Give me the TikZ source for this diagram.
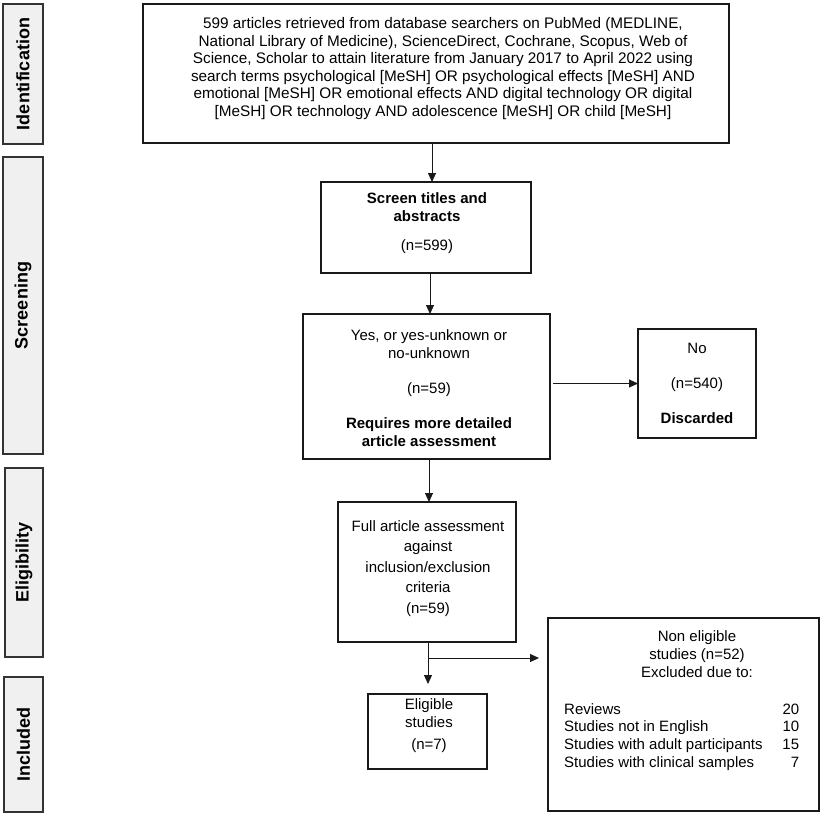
\documentclass[tikz,border=0pt]{standalone}
\usepackage{fontspec}
\setmainfont{Liberation Sans}
\usetikzlibrary{arrows.meta,calc}
\begin{document}
\begin{tikzpicture}[x=1pt,y=-1pt,
  box/.style={draw=black!90, line width=1.2pt, inner sep=0pt, outer sep=0pt, anchor=north west},
  phase/.style={draw=black!80, fill=black!6, line width=1.6pt, inner sep=0pt, rotate=90,
    font=\fontsize{18}{21}\selectfont\bfseries},
  txt/.style={inner sep=0pt, anchor=north, align=center, font=\fontsize{15}{18}\selectfont},
  arr/.style={draw=black!90, line width=1pt, -{Triangle[length=9pt,width=8pt]}}
]
\useasboundingbox (0,0) rectangle (829,815);

% phase labels
\node[phase, minimum width=140pt, minimum height=40pt] (pid) at (23,74) {Identification};
\node[phase, minimum width=297pt, minimum height=40pt] (pscr) at (23,305.5) {Screening};
\node[phase, minimum width=189pt, minimum height=38pt] (pel) at (24,562.5) {Eligibility};
\node[phase, minimum width=135pt, minimum height=39pt] (pinc) at (23.5,744.5) {Included};

% boxes
\node[box, line width=2.4pt, minimum width=586pt, minimum height=139pt] (top) at (143,4) {};
\node[box, minimum width=210pt, minimum height=91pt] (screen) at (321,182) {};
\node[box, minimum width=247pt, minimum height=145pt] (yes) at (303,314) {};
\node[box, minimum width=118pt, minimum height=109pt] (no) at (638,329) {};
\node[box, minimum width=178pt, minimum height=140pt] (full) at (338,502) {};
\node[box, minimum width=119pt, minimum height=75pt] (elig) at (368,694) {};
\node[box, minimum width=271pt, minimum height=193pt] (nonel) at (548,618) {};

% texts
\node[txt, font=\fontsize{15.3}{17.5}\selectfont] (ttop) at (443,16.5) {\strut 599 articles retrieved from database searchers on PubMed (MEDLINE,\\
National Library of Medicine), ScienceDirect, Cochrane, Scopus, Web of\\
Science, Scholar to attain literature from January 2017 to April 2022 using\\
search terms psychological [MeSH] OR psychological effects [MeSH] AND\\
emotional [MeSH] OR emotional effects AND digital technology OR digital\\
{[MeSH]} OR technology AND adolescence [MeSH] OR child [MeSH]};

\node[txt] (tscreen) at (427,190.4) {\strut\textbf{Screen titles and}\\ \textbf{abstracts}\\[11pt] (n=599)};
\node[txt] (tyes) at (429,327.4) {\strut Yes, or yes-unknown or\\ no-unknown\\[17pt] (n=59)\\[17pt] \textbf{Requires more detailed}\\ \textbf{article assessment}};
\node[txt] (tno) at (697,340.4) {\strut No\\[17pt] (n=540)\\[17pt] \textbf{Discarded}};
\node[txt, font=\fontsize{15}{20.5}\selectfont] (tfull) at (428,516.6) {\strut Full article assessment\\ against\\ inclusion/exclusion\\ criteria\\ (n=59)};
\node[txt] (telig) at (429,696.4) {\strut Eligible\\ studies\\[4pt] (n=7)};
\node[txt] (tnonel) at (697,628.4) {\strut Non eligible\\ studies (n=52)\\ Excluded due to:};
\node[inner sep=0pt, anchor=north west, font=\fontsize{15}{17.7}\selectfont] (tlist) at (564,701.6) {%
\begin{tabular*}{235pt}{@{}l@{\extracolsep{\fill}}r@{}}
Reviews & 20\\
Studies not in English & 10\\
Studies with adult participants & 15\\
Studies with clinical samples & 7
\end{tabular*}};

% connectors
\coordinate (c1) at (432,0);
\coordinate (c2) at (430,0);
\coordinate (c3) at (429,0);
\coordinate (c4) at (428,0);
\coordinate (j) at (428,658);
\draw[arr] (top.south -| c1) -- (screen.north -| c1);
\draw[arr] (screen.south -| c2) -- (yes.north -| c2);
\draw[arr, shorten <=3pt] (yes.east |- no.west) -- (no.west);
\draw[arr] (yes.south -| c3) -- (full.north -| c3);
\draw[arr, shorten >=10pt] (full.south -| c4) -- (elig.north -| c4);
\draw[arr, shorten >=9pt] (j) -- (nonel.west |- j);
\end{tikzpicture}
\end{document}
